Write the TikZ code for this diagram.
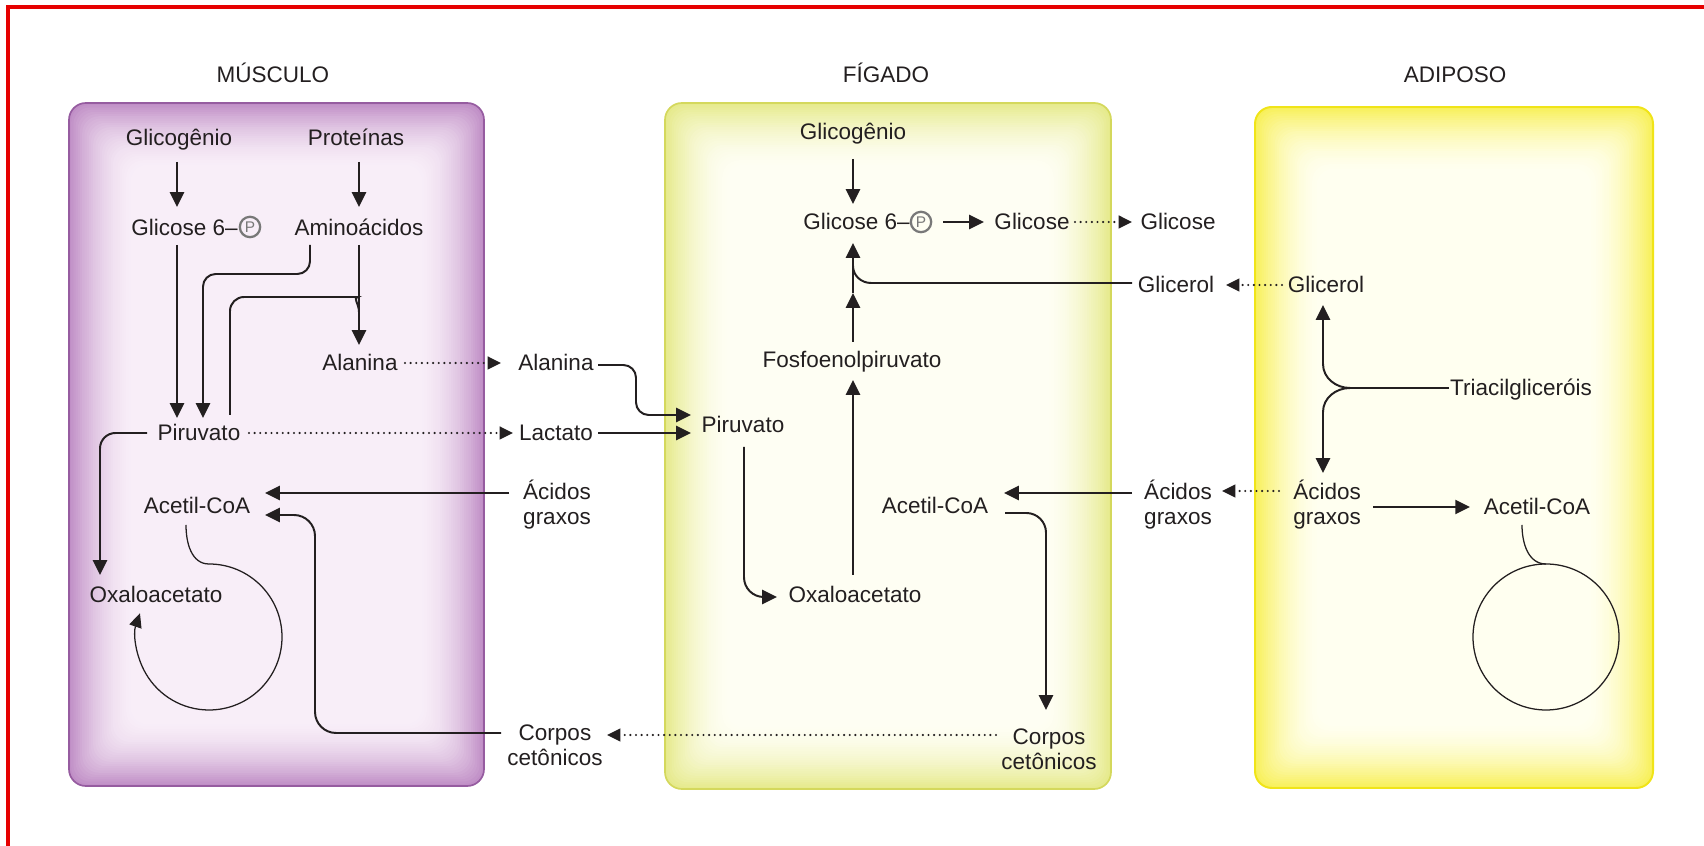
\documentclass[tikz,border=0pt]{standalone}
\usepackage{fontspec}
\setmainfont{Liberation Sans}
\usetikzlibrary{arrows.meta}
\pgfdeclarelayer{boxlayer}
\pgfdeclarelayer{edgelayer}
\pgfdeclarelayer{nodelayer}
\pgfsetlayers{boxlayer,edgelayer,nodelayer,main}
\definecolor{ink}{RGB}{35,31,32}
\definecolor{phosgray}{RGB}{120,120,120}
\definecolor{framered}{RGB}{230,0,0}
\definecolor{musline}{RGB}{150,92,160}
\definecolor{musedge}{RGB}{192,142,198}
\definecolor{muscore}{RGB}{248,238,248}
\definecolor{livline}{RGB}{212,216,92}
\definecolor{livedge}{RGB}{230,234,140}
\definecolor{livcore}{RGB}{254,254,243}
\definecolor{adiline}{RGB}{240,228,24}
\definecolor{adiedge}{RGB}{248,240,90}
\definecolor{adicore}{RGB}{255,255,240}
\tikzstyle{none} = []
\tikzstyle{organ} = [font=\fontsize{16}{17.8}\selectfont, text=ink, inner sep=0pt, anchor=base]
\tikzstyle{metab} = [font=\fontsize{16}{17.8}\selectfont, text=ink, inner sep=0pt, anchor=base, align=center]
\tikzstyle{phos} = [circle, draw=phosgray, line width=1.6pt, minimum size=14.5pt, inner sep=0pt, text=phosgray, font=\fontsize{11}{11}\selectfont]
\tikzstyle{flow} = [draw=ink, line width=1.4pt, -{Triangle[length=10.5pt,width=10pt]}]
\tikzstyle{bare} = [draw=ink, line width=1.4pt]
\tikzstyle{dotflow} = [draw=ink, line width=1.7pt, line cap=round, dash pattern=on 0pt off 4pt, -{Triangle[length=9.5pt,width=9pt]}]
\tikzstyle{krebs} = [draw=ink, line width=0.9pt]

\begin{document}
\begin{tikzpicture}[x=0.025cm, y=0.025cm]
	\useasboundingbox (0, 0) rectangle (1704, 846);
	\begin{pgfonlayer}{boxlayer}
		\fill [white] (0, 0) rectangle (1704, 846);
		\foreach \i in {0,...,29} {
			\pgfmathtruncatemacro{\p}{100*(1-\i/30)^1.8}
			\fill [fill=musedge!\p!muscore, rounded corners=12pt] ({69+2.2*\i}, {60+2.2*\i}) rectangle ({484-2.2*\i}, {743-2.2*\i});
			\fill [fill=livedge!\p!livcore, rounded corners=12pt] ({665+2.2*\i}, {57+2.2*\i}) rectangle ({1111-2.2*\i}, {743-2.2*\i});
			\fill [fill=adiedge!\p!adicore, rounded corners=12pt] ({1255+2.2*\i}, {58+2.2*\i}) rectangle ({1653-2.2*\i}, {739-2.2*\i});
		}
		\draw [draw=musline, line width=1.2pt, rounded corners=12pt] (69, 60) rectangle (484, 743);
		\draw [draw=livline, line width=1.2pt, rounded corners=12pt] (665, 57) rectangle (1111, 743);
		\draw [draw=adiline, line width=1.4pt, rounded corners=12pt] (1255, 58) rectangle (1653, 739);
		\draw [draw=framered, line width=2.4pt] (8, 0) -- (8, 839) -- (1704, 839);
	\end{pgfonlayer}
	\begin{pgfonlayer}{nodelayer}
		\node [style=organ] (0) at (273, 763) {MÚSCULO};
		\node [style=organ] (1) at (886, 763) {FÍGADO};
		\node [style=organ] (2) at (1455, 763) {ADIPOSO};
		\node [style=metab] (3) at (179, 700) {Glicogênio};
		\node [style=metab] (4) at (356, 700) {Proteínas};
		\node [style=metab, anchor=base east] (5) at (238, 610) {Glicose 6–};
		\node [style=phos] (6) at (250, 619) {P};
		\node [style=metab] (7) at (359, 610) {Aminoácidos};
		\node [style=metab] (8) at (360, 475) {Alanina};
		\node [style=metab] (9) at (199, 405) {Piruvato};
		\node [style=metab] (10) at (197, 332) {Acetil-CoA};
		\node [style=metab] (11) at (156, 243) {Oxaloacetato};
		\node [style=metab] (12) at (556, 475) {Alanina};
		\node [style=metab] (13) at (556, 405) {Lactato};
		\node [style=metab] (14) at (557, 321) {Ácidos\\graxos};
		\node [style=metab] (15) at (555, 80) {Corpos\\cetônicos};
		\node [style=metab] (16) at (853, 706) {Glicogênio};
		\node [style=metab, anchor=base east] (17) at (910, 616) {Glicose 6–};
		\node [style=phos] (18) at (921, 624) {P};
		\node [style=metab] (19) at (1032, 616) {Glicose};
		\node [style=metab] (20) at (1178, 616) {Glicose};
		\node [style=metab] (21) at (1176, 553) {Glicerol};
		\node [style=metab] (22) at (852, 478) {Fosfoenolpiruvato};
		\node [style=metab] (23) at (743, 413) {Piruvato};
		\node [style=metab] (24) at (855, 243) {Oxaloacetato};
		\node [style=metab] (25) at (935, 332) {Acetil-CoA};
		\node [style=metab] (26) at (1049, 76) {Corpos\\cetônicos};
		\node [style=metab] (27) at (1178, 321) {Ácidos\\graxos};
		\node [style=metab] (28) at (1326, 553) {Glicerol};
		\node [style=metab] (29) at (1521, 450) {Triacilgliceróis};
		\node [style=metab] (30) at (1327, 321) {Ácidos\\graxos};
		\node [style=metab] (31) at (1537, 331) {Acetil-CoA};
		% muscle ends
		\node [style=none] (40) at (177, 684) {};
		\node [style=none] (41) at (177, 639) {};
		\node [style=none] (42) at (359, 684) {};
		\node [style=none] (43) at (359, 639) {};
		\node [style=none] (44) at (177, 601) {};
		\node [style=none] (45) at (177, 428) {};
		\node [style=none] (46) at (310, 601) {};
		\node [style=none] (47) at (310, 572) {};
		\node [style=none] (48) at (203, 572) {};
		\node [style=none] (49) at (203, 428) {};
		\node [style=none] (50) at (359, 601) {};
		\node [style=none] (51) at (359, 501) {};
		\node [style=none] (52) at (230, 431) {};
		\node [style=none] (53) at (230, 549) {};
		\node [style=none] (54) at (344, 549) {};
		\node [style=none] (55) at (359, 534) {};
		\node [style=none] (56) at (405, 483) {};
		\node [style=none] (57) at (501, 483) {};
		\node [style=none] (58) at (249, 413) {};
		\node [style=none] (59) at (513, 413) {};
		\node [style=none] (60) at (147, 413) {};
		\node [style=none] (61) at (100, 413) {};
		\node [style=none] (62) at (100, 271) {};
		\node [style=none] (63) at (509, 353) {};
		\node [style=none] (64) at (265, 353) {};
		\node [style=none] (65) at (501, 113) {};
		\node [style=none] (66) at (315, 113) {};
		\node [style=none] (67) at (315, 331) {};
		\node [style=none] (68) at (265, 331) {};
		\node [style=none] (69) at (186, 321) {};
		\node [style=none] (70) at (209, 282) {};
		% liver ends
		\node [style=none] (71) at (853, 687) {};
		\node [style=none] (72) at (853, 642) {};
		\node [style=none] (73) at (943, 624) {};
		\node [style=none] (74) at (984, 624) {};
		\node [style=none] (75) at (1075, 624) {};
		\node [style=none] (76) at (1132, 624) {};
		\node [style=none] (77) at (853, 504) {};
		\node [style=none] (78) at (853, 553) {};
		\node [style=none] (79) at (853, 603) {};
		\node [style=none] (80) at (1132, 563) {};
		\node [style=none] (81) at (871, 563) {};
		\node [style=none] (82) at (853, 580) {};
		\node [style=none] (83) at (598, 481) {};
		\node [style=none] (84) at (636, 481) {};
		\node [style=none] (85) at (636, 431) {};
		\node [style=none] (86) at (691, 431) {};
		\node [style=none] (87) at (598, 413) {};
		\node [style=none] (88) at (691, 413) {};
		\node [style=none] (89) at (744, 399) {};
		\node [style=none] (90) at (744, 249) {};
		\node [style=none] (91) at (777, 249) {};
		\node [style=none] (92) at (853, 271) {};
		\node [style=none] (93) at (853, 466) {};
		\node [style=none] (94) at (1132, 353) {};
		\node [style=none] (95) at (1004, 353) {};
		\node [style=none] (96) at (1005, 333) {};
		\node [style=none] (97) at (1046, 333) {};
		\node [style=none] (98) at (1046, 136) {};
		\node [style=none] (99) at (996, 111) {};
		\node [style=none] (100) at (607, 111) {};
		% adipose ends
		\node [style=none] (101) at (1282, 561) {};
		\node [style=none] (102) at (1226, 561) {};
		\node [style=none] (103) at (1449, 458) {};
		\node [style=none] (104) at (1350, 458) {};
		\node [style=none] (105) at (1323, 482) {};
		\node [style=none] (106) at (1323, 541) {};
		\node [style=none] (107) at (1323, 434) {};
		\node [style=none] (108) at (1323, 373) {};
		\node [style=none] (109) at (1279, 355) {};
		\node [style=none] (110) at (1222, 355) {};
		\node [style=none] (111) at (1373, 339) {};
		\node [style=none] (112) at (1470, 339) {};
		\node [style=none] (113) at (1522, 321) {};
		\node [style=none] (114) at (1546, 282) {};
	\end{pgfonlayer}
	\begin{pgfonlayer}{edgelayer}
		\draw [style=flow] (40.center) to (41.center);
		\draw [style=flow] (42.center) to (43.center);
		\draw [style=flow] (44.center) to (45.center);
		\draw [style=flow, rounded corners=9pt] (46.center) -- (47.center) -- (48.center) -- (49.center);
		\draw [style=flow] (50.center) to (51.center);
		\draw [style=bare, rounded corners=10pt] (52.center) -- (53.center) -- (54.center) to [out=0, in=90] (55.center);
		\draw [style=dotflow] (56.center) to (57.center);
		\draw [style=dotflow] (58.center) to (59.center);
		\draw [style=flow, rounded corners=11pt] (60.center) -- (61.center) -- (62.center);
		\draw [style=flow] (63.center) to (64.center);
		\draw [style=flow, rounded corners=15pt] (65.center) -- (66.center) -- (67.center) -- (68.center);
		\draw [style=krebs] (69.center) to [out=-90, in=180] (70.center);
		\draw [style=krebs, -{Triangle[length=10pt,width=9pt]}] (70.center) arc [start angle=90, end angle=-199, radius=73];
		\draw [style=flow] (71.center) to (72.center);
		\draw [style=flow] (73.center) to (74.center);
		\draw [style=dotflow] (75.center) to (76.center);
		\draw [style=flow] (77.center) to (78.center);
		\draw [style=flow] (78.center) to (79.center);
		\draw [style=bare] (80.center) -- (81.center) to [out=180, in=-90] (82.center);
		\draw [style=flow, rounded corners=9pt] (83.center) -- (84.center) -- (85.center) -- (86.center);
		\draw [style=flow] (87.center) to (88.center);
		\draw [style=flow, rounded corners=14pt] (89.center) -- (90.center) -- (91.center);
		\draw [style=flow] (92.center) to (93.center);
		\draw [style=flow] (94.center) to (95.center);
		\draw [style=flow, rounded corners=14pt] (96.center) -- (97.center) -- (98.center);
		\draw [style=dotflow] (99.center) to (100.center);
		\draw [style=dotflow] (101.center) to (102.center);
		\draw [style=bare] (103.center) to (104.center);
		\draw [style=flow] (104.center) to [out=180, in=-90] (105.center) -- (106.center);
		\draw [style=flow] (104.center) to [out=180, in=90] (107.center) -- (108.center);
		\draw [style=dotflow] (109.center) to (110.center);
		\draw [style=flow] (111.center) to (112.center);
		\draw [style=krebs] (113.center) to [out=-90, in=180] (114.center);
		\draw [style=krebs] (1546, 209) circle [radius=73];
	\end{pgfonlayer}
\end{tikzpicture}
\end{document}
